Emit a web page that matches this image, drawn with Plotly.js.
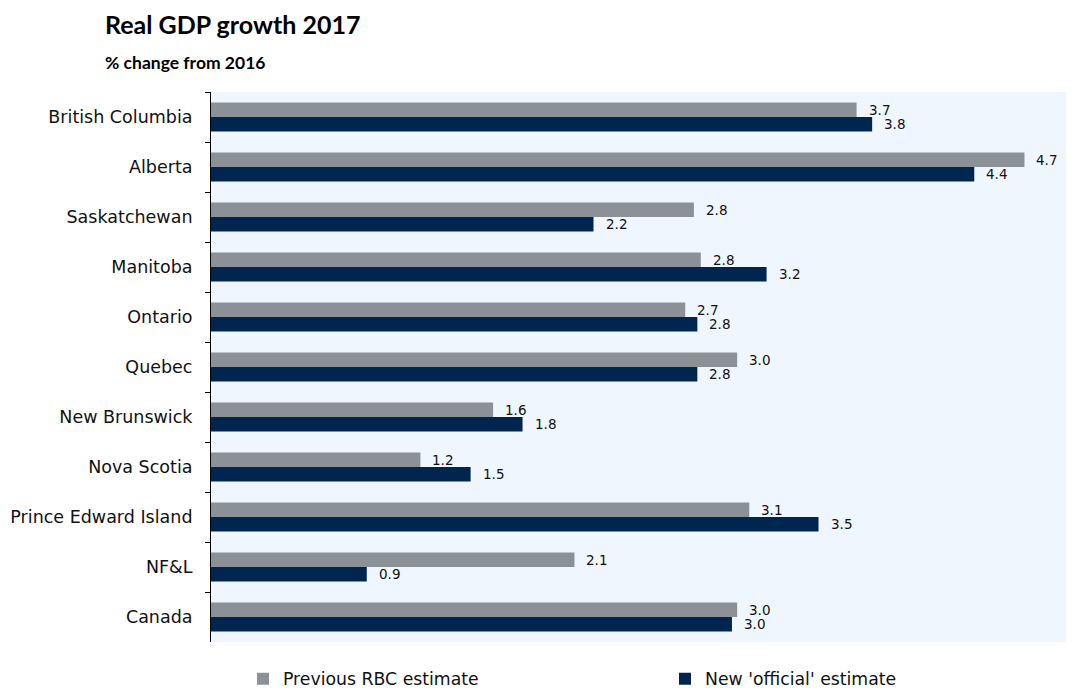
<!DOCTYPE html>
<html>
<head>
<meta charset="utf-8">
<script src="https://cdn.plot.ly/plotly-3.0.1.min.js"></script>
<style>html,body{margin:0;padding:0;background:#fff;}#chart{width:1077px;height:688px;}</style>
</head>
<body>
<div id="chart"></div>
<script>
var regions = ["British Columbia","Alberta","Saskatchewan","Manitoba","Ontario","Quebec","New Brunswick","Nova Scotia","Prince Edward Island","NF&L","Canada"];
var previousRBC = [3.73, 4.70, 2.79, 2.83, 2.74, 3.04, 1.63, 1.21, 3.11, 2.10, 3.04];
var newOfficial = [3.82, 4.41, 2.21, 3.21, 2.81, 2.81, 1.80, 1.50, 3.51, 0.90, 3.01];
var seriesNames = ["Previous RBC estimate", "New 'official' estimate"];

var greyC = '#8b9197', navyC = '#00264f';
var labelFont = {family: 'DejaVu Sans', size: 13.5, color: '#111'};

var traces = [
  {type:'bar', orientation:'h', name: seriesNames[0], y: regions, x: previousRBC,
   marker:{color: greyC}, hoverinfo:'x', legend:'legend'},
  {type:'bar', orientation:'h', name: seriesNames[1], y: regions, x: newOfficial,
   marker:{color: navyC}, hoverinfo:'x', legend:'legend2'}
];

var annotations = [];
regions.forEach(function(r, i){
  annotations.push({x: previousRBC[i], y: r, xref:'x', yref:'y', text: previousRBC[i].toFixed(1),
    showarrow:false, xanchor:'left', yanchor:'middle', xshift:10, yshift:7, font: labelFont});
  annotations.push({x: newOfficial[i], y: r, xref:'x', yref:'y', text: newOfficial[i].toFixed(1),
    showarrow:false, xanchor:'left', yanchor:'middle', xshift:10, yshift:-7, font: labelFont});
});
annotations.push({xref:'paper', yref:'paper', x:-0.126, y:(642-62)/550, xanchor:'left', yanchor:'middle',
  text:'<b>% change from 2016</b>', showarrow:false, font:{family:'Lato', size:17.5, color:'#000'}});

var legendFont = {family:'DejaVu Sans', size:17.3, color:'#111'};
var layout = {
  width:1077, height:688,
  margin:{l:211, r:11, t:92, b:46, autoexpand:false},
  paper_bgcolor:'#ffffff', plot_bgcolor:'#eff6fd',
  title:{text:'<b>Real GDP growth 2017</b>', x:105/1077, xref:'container', xanchor:'left',
    y:1-25/688, yref:'container', yanchor:'middle', font:{family:'Lato', size:25, color:'#000'}},
  barmode:'group', bargap:0.42, bargroupgap:0,
  xaxis:{range:[0,4.94], showgrid:false, zeroline:false, showticklabels:false, ticks:'', showline:false, fixedrange:true},
  yaxis:{autorange:'reversed', type:'category', showline:true, linecolor:'#000', linewidth:1,
    ticks:'outside', tickson:'boundaries', ticklen:5, tickcolor:'#000', tickwidth:1,
    ticklabelstandoff:14, showgrid:false,
    tickfont:{family:'DejaVu Sans', size:17.5, color:'#111'}},
  showlegend:true,
  legend:{orientation:'h', xref:'container', x:(283-40)/1077, xanchor:'left', yref:'container', y:1-679/688, yanchor:'middle',
    font:legendFont, bgcolor:'rgba(0,0,0,0)'},
  legend2:{orientation:'h', xref:'container', x:(705-40)/1077, xanchor:'left', yref:'container', y:1-679/688, yanchor:'middle',
    font:legendFont, bgcolor:'rgba(0,0,0,0)'},
  annotations: annotations
};

Plotly.newPlot('chart', traces, layout, {displayModeBar:false, staticPlot:true});
</script>
</body>
</html>
